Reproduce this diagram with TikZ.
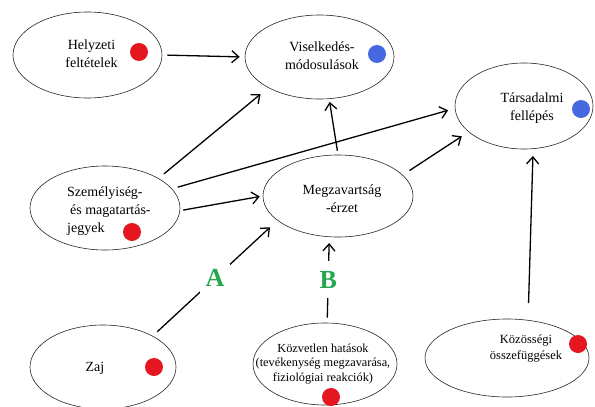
\documentclass[tikz,border=0pt]{standalone}
\usepackage{fontspec}
\setmainfont{Liberation Serif}
\usetikzlibrary{shapes.geometric,arrows.meta}
\definecolor{dotred}{RGB}{228,22,32}
\definecolor{dotblue}{RGB}{70,104,224}
\definecolor{labgreen}{RGB}{38,166,78}
\begin{document}
\begin{tikzpicture}[x=1pt,y=-1pt,
  ell/.style={ellipse,draw=black!85,line width=0.6pt,inner sep=0pt},
  lbl/.style={inner sep=0pt,align=center,font=\fontsize{14}{18}\selectfont},
  reddot/.style={circle,fill=dotred,minimum size=18pt,inner sep=0pt},
  bluedot/.style={circle,fill=dotblue,minimum size=18pt,inner sep=0pt},
  arr/.style={-{Straight Barb[length=7pt,width=12pt]},line width=1.3pt},
  letter/.style={font=\fontsize{26}{26}\selectfont\bfseries,text=labgreen,fill=white,inner sep=6pt}
]
\fill[white] (0,0) rectangle (595,407);
\useasboundingbox (0,0) rectangle (595,407);

% ellipses
\node[ell,minimum width=149pt,minimum height=86pt] (helyzeti) at (87.5,55) {};
\node[ell,minimum width=149pt,minimum height=84pt] (viselkedes) at (319.5,57) {};
\node[ell,minimum width=138pt,minimum height=86pt] (tarsadalmi) at (524,106) {};
\node[ell,minimum width=150pt,minimum height=84pt] (szemely) at (105,208) {};
\node[ell,minimum width=150pt,minimum height=82pt] (megzavar) at (338,196) {};
\node[ell,minimum width=146pt,minimum height=84pt] (zaj) at (103,367) {};
\node[ell,minimum width=144pt,minimum height=82pt] (kozvetlen) at (325,364) {};
\node[ell,minimum width=164pt,minimum height=78pt] (kozossegi) at (507,358) {};

% texts
\node[lbl] (t-helyzeti) at (91.5,53.5) {Helyzeti\\feltételek};
\node[lbl] (t-visel) at (322,56) {Viselkedés-\\módosulások};
\node[lbl] (t-tars) at (532,108) {Társadalmi\\fellépés};
\node[lbl,align=left,anchor=west] (t-szem) at (67,211) {Személyiség-\\\hspace{3pt}és magatartás-\\jegyek};
\node[lbl] (t-megz) at (342,199) {Megzavartság\\-érzet};
\node[lbl] (t-zaj) at (95,368) {Zaj};
\node[lbl,font=\fontsize{12.3}{14.5}\selectfont] (t-kozv) at (323,364) {Közvetlen hatások\\(tevékenység megzavarása,\\fiziológiai reakciók)};
\node[lbl,font=\fontsize{12.5}{16}\selectfont] (t-kozos) at (526,348) {Közösségi\\összefüggések};

% dots
\node[reddot] (d-helyzeti) at (139,52) {};
\node[bluedot] (d-visel) at (377,54) {};
\node[bluedot] (d-tars) at (581,109) {};
\node[reddot] (d-szem) at (132,232) {};
\node[reddot] (d-zaj) at (154,367) {};
\node[reddot] (d-kozv) at (331,397) {};
\node[reddot] (d-kozos) at (578,344) {};

% connectors
\draw[arr,shorten <=5pt,shorten >=5pt] (helyzeti.east) -- (viselkedes.west);
\draw[arr,shorten <=7pt,shorten >=10pt] (szemely.29) -- (viselkedes.211);
\draw[arr,shorten <=6pt,shorten >=7pt] (szemely.16) -- (tarsadalmi.182);
\draw[arr,shorten <=3pt,shorten >=3pt] (szemely.-2) -- (megzavar.180);
\draw[arr,shorten <=4pt,shorten >=3pt] (megzavar.north) -- (viselkedes.283);
\draw[arr,shorten <=8pt,shorten >=8pt] (megzavar.18) -- (tarsadalmi.205);
\draw[arr,shorten <=6pt,shorten >=10pt] (zaj.32) -- node[letter] (labA) {A} (megzavar.202);
\draw[arr,shorten <=5pt,shorten >=6pt] (kozvetlen.87) -- node[letter,inner ysep=10pt] (labB) {B} (megzavar.258);
\draw[arr,shorten <=17pt,shorten >=7pt] (kozossegi.61) -- (tarsadalmi.282);
\end{tikzpicture}
\end{document}
